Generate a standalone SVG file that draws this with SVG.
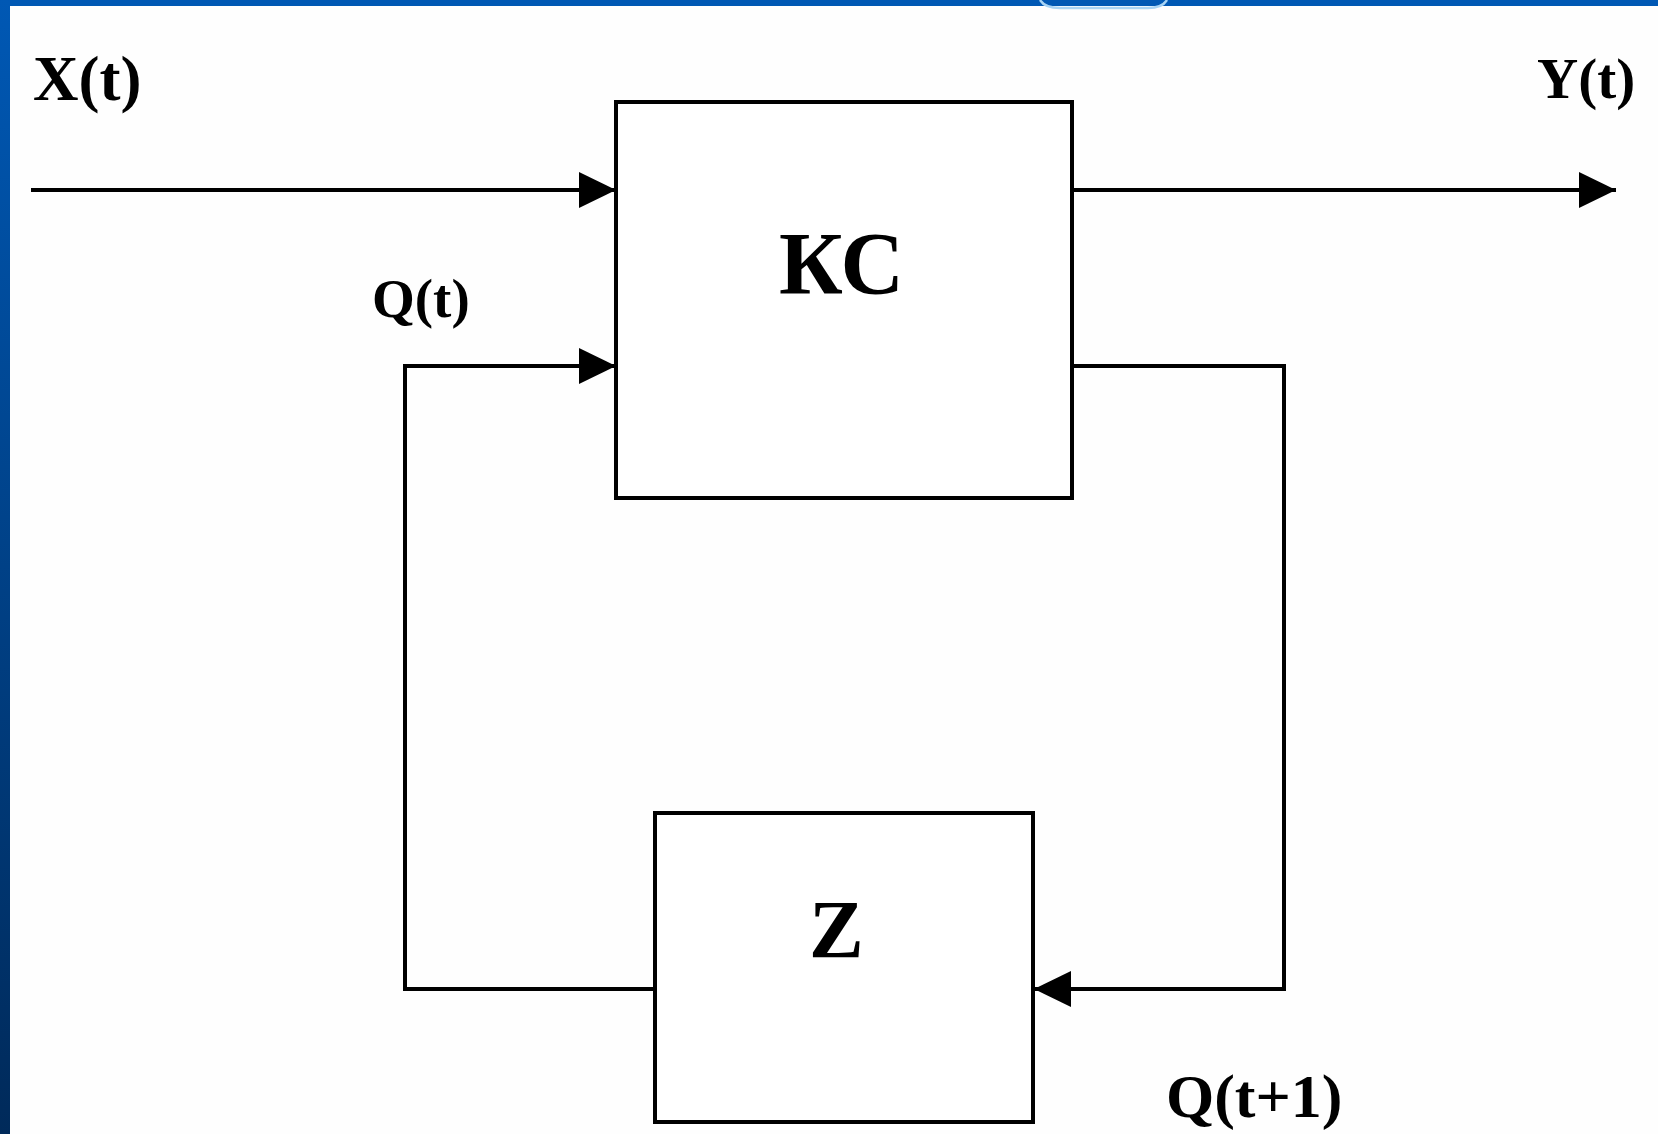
<svg xmlns="http://www.w3.org/2000/svg" width="1658" height="1134" viewBox="0 0 1658 1134">
  <defs>
    <linearGradient id="bandV" x1="0" y1="0" x2="0" y2="1">
      <stop offset="0" stop-color="#0058b4"/>
      <stop offset="1" stop-color="#002a5a"/>
    </linearGradient>
    <marker id="arrow" markerUnits="userSpaceOnUse" markerWidth="38" markerHeight="38" refX="37" refY="19" orient="auto">
      <polygon points="0,1 37,19 0,37" fill="#000"/>
    </marker>
  </defs>
  <style>
    .box { fill: #ffffff; stroke: #000; stroke-width: 4; }
    .wire { fill: none; stroke: #000; stroke-width: 4; stroke-linejoin: miter; }
    .lbl { font-family: "Liberation Serif", "Times New Roman", serif; font-weight: bold; fill: #000; }
  </style>

  <rect x="0" y="0" width="1658" height="1134" fill="#fefefe"/>
  <!-- blue frame -->
  <rect x="0" y="0" width="1658" height="6" fill="#0058b4"/>
  <rect x="0" y="0" width="10" height="1134" fill="url(#bandV)"/>
  <path d="M1040,0 Q1045,8 1060,8 L1148,8 Q1162,8 1167,0" fill="none" stroke="#a8d4f4" stroke-width="2.5"/>

  <g id="connectors">
    <line class="wire" x1="31" y1="190" x2="616" y2="190" marker-end="url(#arrow)"/>
    <line class="wire" x1="1072" y1="190" x2="1616" y2="190" marker-end="url(#arrow)"/>
    <path class="wire" d="M1072,366 H1284 V989 H1034" marker-end="url(#arrow)"/>
    <path class="wire" d="M655,989 H405 V366 H616" marker-end="url(#arrow)"/>
  </g>

  <g id="node-kc">
    <rect class="box" x="616" y="102" width="456" height="396"/>
    <text class="lbl" x="779" y="293" font-size="88">КС</text>
  </g>

  <g id="node-z">
    <rect class="box" x="655" y="813" width="378" height="309"/>
    <text class="lbl" x="809" y="957" font-size="82">Z</text>
  </g>

  <g id="labels">
    <text class="lbl" x="33" y="100" font-size="63">X(t)</text>
    <text class="lbl" x="1537" y="98" font-size="57">Y(t)</text>
    <text class="lbl" x="372" y="317" font-size="55">Q(t)</text>
    <text class="lbl" x="1166" y="1117" font-size="62">Q(t+1)</text>
  </g>
</svg>
